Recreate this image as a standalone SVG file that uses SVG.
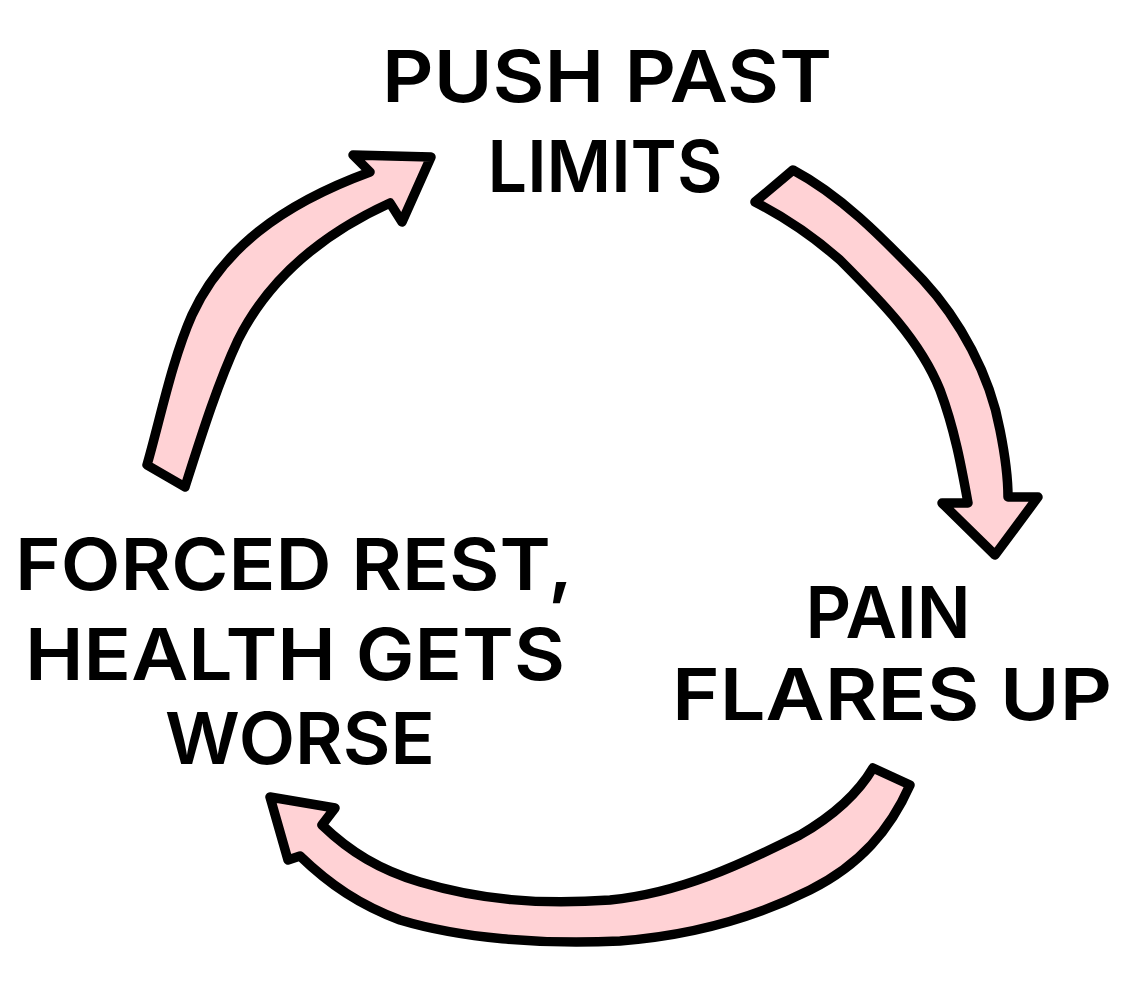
<svg xmlns="http://www.w3.org/2000/svg" width="1148" height="1000" viewBox="0 0 1148 1000">
<style>
.arrow{fill:#FFD2D5;stroke:#000;stroke-width:9.5;stroke-linejoin:round;stroke-linecap:round}
.lbl{font-family:Inter,"Liberation Sans",sans-serif;font-weight:600;font-size:72px;fill:#000;text-anchor:middle}
</style>
<rect width="1148" height="1000" fill="#fff"/>
<g id="connectors">
<path class="arrow" d="M147,465 C160,420 172,360 192,315 C222,250 280,205 370,172 L353,155 L431,157 L402,222 L390,203 C320,235 268,280 238,340 C217,385 200,440 185,487 Z"/>
<path class="arrow" d="M755,202 L793,170 C840,195 880,235 923,280 C960,320 990,375 1000,430 C1006,460 1008,480 1008,497 L1038,497 L995,555 L942,503 L968,503 C962,470 955,430 940,390 C920,340 880,300 840,260 C815,238 790,220 755,202 Z"/>
<path class="arrow" d="M873,768 L910,785 C890,830 860,865 810,890 C760,915 700,935 620,941 C540,945 460,938 400,920 C360,905 330,885 300,856 L288,860 L270,797 L335,808 L322,825 C350,852 380,870 420,882 C480,900 540,905 610,900 C680,893 740,865 800,835 C840,812 860,790 873,768 Z"/>
</g>
<g id="node-push">
<text class="lbl" x="607" y="102" textLength="450" lengthAdjust="spacingAndGlyphs">PUSH PAST</text>
<text class="lbl" x="605" y="192" textLength="235" lengthAdjust="spacingAndGlyphs">LIMITS</text>
</g>
<g id="node-pain">
<text class="lbl" x="888" y="638" textLength="165" lengthAdjust="spacingAndGlyphs">PAIN</text>
<text class="lbl" x="892" y="720" textLength="440" lengthAdjust="spacingAndGlyphs">FLARES UP</text>
</g>
<g id="node-rest">
<text class="lbl" x="294" y="590" textLength="558" lengthAdjust="spacingAndGlyphs">FORCED REST,</text>
<text class="lbl" x="295" y="680" textLength="540" lengthAdjust="spacingAndGlyphs">HEALTH GETS</text>
<text class="lbl" x="300" y="764" textLength="270" lengthAdjust="spacingAndGlyphs">WORSE</text>
</g>
</svg>
